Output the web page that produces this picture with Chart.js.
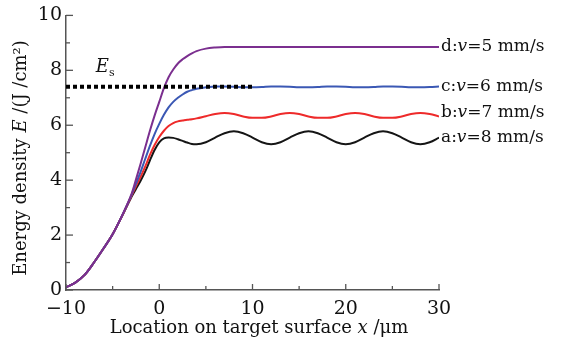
<!DOCTYPE html>
<html>
<head>
<meta charset="utf-8">
<script src="https://cdn.jsdelivr.net/npm/chart.js@4"></script>
<style>
  html, body { margin: 0; padding: 0; background: #fff; }
  #wrap { width: 564px; height: 340px; }
</style>
</head>
<body>
<div id="wrap"><canvas id="chartEnergy"></canvas></div>
<script>
// x positions on target surface (um)
const xs = [-10, -9, -8, -7, -6, -5, -4, -3, -2.5, -2, -1.5, -1, -0.5, 0, 0.5, 1, 1.5, 2, 2.5, 3, 3.5, 4,
    5, 6, 7, 8, 9, 10, 11, 12, 13, 14, 15, 16, 17, 18, 19, 20, 21, 22, 23, 24, 25, 26, 27, 28, 29, 30];

// energy density (J/cm2)
const seriesD = [0.1, 0.27, 0.55, 1.0, 1.5, 2.03, 2.7, 3.47, 4.02, 4.6, 5.2, 5.8, 6.35, 6.85, 7.35, 7.75, 8.03, 8.25, 8.4, 8.52, 8.62, 8.7,
    8.79, 8.83, 8.85, 8.85, 8.85, 8.85, 8.85, 8.85, 8.85, 8.85, 8.85, 8.85, 8.85, 8.85, 8.85, 8.85, 8.85, 8.85, 8.85, 8.85, 8.85, 8.85, 8.85, 8.85, 8.85, 8.85];
const seriesC = [0.1, 0.27, 0.55, 1.0, 1.5, 2.03, 2.7, 3.44, 3.87, 4.3, 4.78, 5.25, 5.68, 6.05, 6.38, 6.65, 6.85, 7.0, 7.12, 7.22, 7.28, 7.33,
    7.38, 7.41, 7.41, 7.4, 7.38, 7.38, 7.39, 7.41, 7.41, 7.4, 7.38, 7.38, 7.39, 7.41, 7.41, 7.4, 7.38, 7.38, 7.39, 7.41, 7.41, 7.4, 7.38, 7.38, 7.39, 7.41];
const seriesB = [0.1, 0.27, 0.55, 1.0, 1.5, 2.03, 2.69, 3.41, 3.78, 4.12, 4.5, 4.92, 5.28, 5.57, 5.8, 5.97, 6.08, 6.14, 6.17, 6.2, 6.22, 6.25,
    6.33, 6.41, 6.45, 6.41, 6.32, 6.27, 6.27, 6.32, 6.41, 6.45, 6.41, 6.32, 6.27, 6.27, 6.32, 6.41, 6.45, 6.41, 6.32, 6.27, 6.27, 6.32, 6.41, 6.45, 6.41, 6.32];
const seriesA = [0.1, 0.27, 0.55, 1.0, 1.5, 2.03, 2.68, 3.38, 3.68, 3.98, 4.32, 4.72, 5.1, 5.38, 5.52, 5.55, 5.54, 5.49, 5.43, 5.37, 5.32, 5.31,
    5.38, 5.55, 5.71, 5.78, 5.71, 5.55, 5.38, 5.31, 5.38, 5.55, 5.71, 5.78, 5.71, 5.55, 5.38, 5.31, 5.38, 5.55, 5.71, 5.78, 5.71, 5.55, 5.38, 5.31, 5.38, 5.55];

// threshold Es
const esX = [-10, 10];
const esY = [7.4, 7.4];

const seriesLabels = ["d", "c", "b", "a"];
const seriesSpeeds = ["5", "6", "7", "8"];
const seriesColors = ["#7b2f8f", "#3b58b4", "#ee2a2a", "#151515"];

const SERIF = '"DejaVu Serif", serif';

function toPoints(xArr, yArr) {
    return xArr.map((x, i) => ({ x: x, y: yArr[i] }));
}

// draws a row of text pieces, some italic / smaller / shifted
function drawRich(ctx, parts, x, y, align) {
    let total = 0;
    parts.forEach(p => {
        ctx.font = (p.italic ? "italic " : "") + p.size + "px " + SERIF;
        p.w = ctx.measureText(p.t).width;
        total += p.w;
    });
    let cx = align === "center" ? x - total / 2 : x;
    parts.forEach(p => {
        ctx.font = (p.italic ? "italic " : "") + p.size + "px " + SERIF;
        ctx.fillText(p.t, cx, y + (p.dy || 0));
        cx += p.w;
    });
}

const decorPlugin = {
    id: "decor",
    afterDraw(chart) {
        const ctx = chart.ctx;
        const xS = chart.scales.x;
        const yS = chart.scales.y;
        const area = chart.chartArea;
        ctx.save();

        // inward ticks
        ctx.strokeStyle = "#555";
        ctx.lineWidth = 1.3;
        for (let v = -10; v <= 30; v += 5) {
            const px = xS.getPixelForValue(v);
            const len = (v % 10 === 0) ? 6 : 4;
            ctx.beginPath();
            ctx.moveTo(px, area.bottom);
            ctx.lineTo(px, area.bottom - len);
            ctx.stroke();
        }
        for (let v = 0; v <= 10; v += 1) {
            const py = yS.getPixelForValue(v);
            const len = (v % 2 === 0) ? 7 : 4;
            ctx.beginPath();
            ctx.moveTo(area.left, py);
            ctx.lineTo(area.left + len, py);
            ctx.stroke();
        }

        ctx.fillStyle = "#111";
        ctx.textBaseline = "middle";

        // series labels at the right end of each line
        const lastY = [seriesD, seriesC, seriesB, seriesA].map(s => s[s.length - 1]);
        const nudge = [0, 0, -4, 0];
        for (let i = 0; i < 4; i++) {
            const px = xS.getPixelForValue(xs[xs.length - 1]) + 2;
            const py = yS.getPixelForValue(lastY[i]) + nudge[i];
            drawRich(ctx, [
                { t: seriesLabels[i] + ":", size: 17 },
                { t: "v", size: 17, italic: true },
                { t: "=" + seriesSpeeds[i] + " mm/s", size: 17 }
            ], px, py, "left");
        }

        // Es label
        const ex = xS.getPixelForValue(-6.8);
        const ey = yS.getPixelForValue(8.1);
        drawRich(ctx, [
            { t: "E", size: 18, italic: true },
            { t: "s", size: 11, dy: 6 }
        ], ex, ey, "left");

        // x axis title
        drawRich(ctx, [
            { t: "Location on target surface ", size: 18 },
            { t: "x", size: 18, italic: true },
            { t: " /\u03bcm", size: 18 }
        ], 259, 328, "center");

        // y axis title
        ctx.translate(21, 158);
        ctx.rotate(-Math.PI / 2);
        drawRich(ctx, [
            { t: "Energy density ", size: 18 },
            { t: "E", size: 18, italic: true },
            { t: " /(J /cm\u00b2)", size: 18 }
        ], 0, 0, "center");

        ctx.restore();
    }
};

const datasets = [{
    label: "Es",
    data: toPoints(esX, esY),
    borderColor: "#000",
    borderWidth: 4,
    borderDash: [4, 3],
    borderCapStyle: "butt",
    pointRadius: 0,
    tension: 0
}];
[seriesD, seriesC, seriesB, seriesA].forEach((s, i) => {
    datasets.push({
        label: seriesLabels[i],
        data: toPoints(xs, s),
        borderColor: seriesColors[i],
        borderWidth: 2,
        pointRadius: 0,
        cubicInterpolationMode: "monotone"
    });
});

new Chart(document.getElementById("chartEnergy"), {
    type: "line",
    data: { datasets: datasets },
    options: {
        responsive: true,
        maintainAspectRatio: false,
        animation: false,
        layout: { padding: { left: 0, right: 125, top: 7, bottom: 0 } },
        plugins: {
            legend: { display: false },
            tooltip: { enabled: false }
        },
        scales: {
            x: {
                type: "linear",
                min: -10,
                max: 30,
                afterFit: scale => { scale.height = 50; },
                ticks: {
                    stepSize: 10,
                    color: "#111",
                    padding: 8,
                    font: { family: SERIF, size: 19 },
                    maxRotation: 0,
                    callback: v => String(v).replace("-", "\u2212")
                },
                grid: { drawOnChartArea: false, drawTicks: false },
                border: { display: true, color: "#555", width: 1.5 }
            },
            y: {
                min: 0,
                max: 10,
                afterFit: scale => { scale.width = 66; },
                ticks: {
                    stepSize: 2,
                    color: "#111",
                    padding: 4,
                    font: { family: SERIF, size: 19 }
                },
                grid: { drawOnChartArea: false, drawTicks: false },
                border: { display: true, color: "#555", width: 1.5 }
            }
        }
    },
    plugins: [decorPlugin]
});
</script>
</body>
</html>
